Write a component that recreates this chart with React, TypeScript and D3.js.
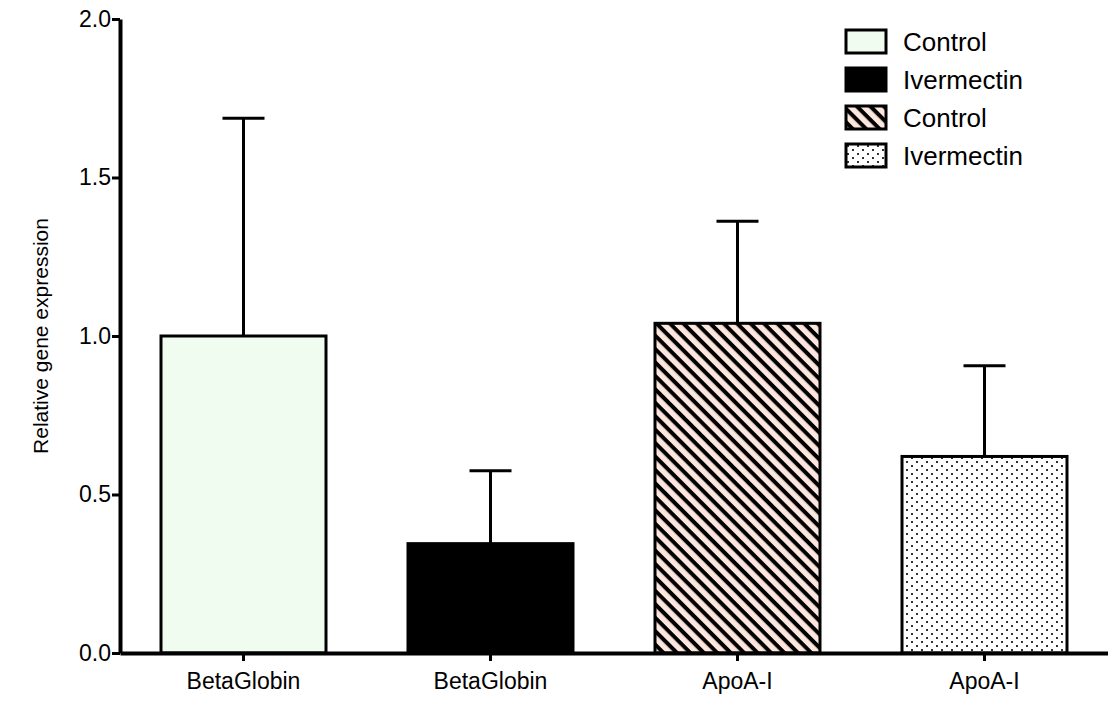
import { useEffect, useRef } from "react";
import * as d3 from "d3";

const categories = ["BetaGlobin", "BetaGlobin", "ApoA-I", "ApoA-I"];
const means = [1.0, 0.345, 1.04, 0.62];
const errTops = [1.687, 0.575, 1.362, 0.906];
const legendLabels = ["Control", "Ivermectin", "Control", "Ivermectin"];
const yTicks = [0, 0.5, 1.0, 1.5, 2.0];
const fills = ["#f1fcf0", "#000000", "url(#hatch)", "url(#dots)"];

const App = () => {
  const svgRef = useRef(null);

  useEffect(() => {
    const svg = d3.select(svgRef.current);
    svg.selectAll("*").remove();

    const width = 1108;
    const height = 702;
    const margin = { top: 19, right: 0, bottom: 49, left: 120 };
    const font = "Liberation Sans, Arial, sans-serif";

    const defs = svg.append("defs");
    const hp = 9.5;
    const hatch = defs
      .append("pattern")
      .attr("id", "hatch")
      .attr("patternUnits", "userSpaceOnUse")
      .attr("width", hp)
      .attr("height", hp)
      .attr("patternTransform", "rotate(45)");
    hatch.append("rect").attr("width", hp).attr("height", hp).attr("fill", "#fde6dd");
    hatch
      .append("rect")
      .attr("x", 0)
      .attr("y", 0)
      .attr("width", hp)
      .attr("height", 4)
      .attr("fill", "#000");

    const dots = defs
      .append("pattern")
      .attr("id", "dots")
      .attr("patternUnits", "userSpaceOnUse")
      .attr("width", 10)
      .attr("height", 8);
    dots.append("rect").attr("width", 10).attr("height", 8).attr("fill", "#fff");
    dots.append("rect").attr("x", 1).attr("y", 1).attr("width", 2).attr("height", 2).attr("fill", "#333");
    dots.append("rect").attr("x", 6).attr("y", 5).attr("width", 2).attr("height", 2).attr("fill", "#333");

    const x = d3
      .scaleBand()
      .domain(d3.range(categories.length).map(String))
      .range([margin.left, width - margin.right])
      .paddingInner(0.332)
      .paddingOuter(0.166);

    const y = d3
      .scaleLinear()
      .domain([0, 2])
      .range([height - margin.bottom, margin.top]);

    // error bars (behind bars)
    const cap = 21;
    const eg = svg.append("g").attr("stroke", "#000").attr("stroke-width", 3);
    means.forEach((m, i) => {
      const cx = (x(String(i)) as number) + x.bandwidth() / 2;
      eg.append("line").attr("x1", cx).attr("x2", cx).attr("y1", y(m)).attr("y2", y(errTops[i]));
      eg.append("line")
        .attr("x1", cx - cap)
        .attr("x2", cx + cap)
        .attr("y1", y(errTops[i]))
        .attr("y2", y(errTops[i]));
    });

    svg
      .append("g")
      .selectAll("rect")
      .data(means)
      .join("rect")
      .attr("x", (d, i) => x(String(i)) as number)
      .attr("y", (d) => y(d))
      .attr("width", x.bandwidth())
      .attr("height", (d) => y(0) - y(d))
      .attr("fill", (d, i) => fills[i])
      .attr("stroke", "#000")
      .attr("stroke-width", 3);

    // y axis
    const yAxis = svg
      .append("g")
      .attr("transform", `translate(${margin.left},0)`)
      .call(
        d3
          .axisLeft(y)
          .tickValues(yTicks)
          .tickFormat(d3.format(".1f"))
          .tickSize(8)
          .tickSizeOuter(0)
      );
    yAxis.select(".domain").attr("stroke-width", 4);
    yAxis.selectAll(".tick line").attr("stroke-width", 3);
    yAxis
      .selectAll(".tick text")
      .attr("font-family", font)
      .attr("font-size", 23)
      .attr("fill", "#000")
      .attr("x", -9);

    // x axis
    const xAxis = svg
      .append("g")
      .attr("transform", `translate(0,${y(0)})`)
      .call(
        d3
          .axisBottom(x)
          .tickFormat((d) => categories[+d])
          .tickSize(8)
          .tickSizeOuter(0)
      );
    xAxis.select(".domain").attr("stroke-width", 4);
    xAxis.selectAll(".tick line").attr("stroke-width", 3);
    xAxis
      .selectAll(".tick text")
      .attr("font-family", font)
      .attr("font-size", 23)
      .attr("fill", "#000")
      .attr("y", 20);

    svg
      .append("text")
      .attr("transform", `translate(48,${y(1)}) rotate(-90)`)
      .attr("text-anchor", "middle")
      .attr("font-family", font)
      .attr("font-size", 21)
      .text("Relative gene expression");

    // legend
    const legend = svg.append("g").attr("transform", "translate(846,30)");
    legendLabels.forEach((label, i) => {
      const row = legend.append("g").attr("transform", `translate(0,${i * 38})`);
      row
        .append("rect")
        .attr("width", 40)
        .attr("height", 23)
        .attr("fill", fills[i])
        .attr("stroke", "#000")
        .attr("stroke-width", 3);
      row
        .append("text")
        .attr("x", 57)
        .attr("y", 21)
        .attr("font-family", font)
        .attr("font-size", 26)
        .text(label);
    });
  }, []);

  return (
    <svg
      ref={svgRef}
      width={1108}
      height={702}
      style={{ position: "absolute", left: 0, top: 0 }}
    />
  );
};

export default App;
